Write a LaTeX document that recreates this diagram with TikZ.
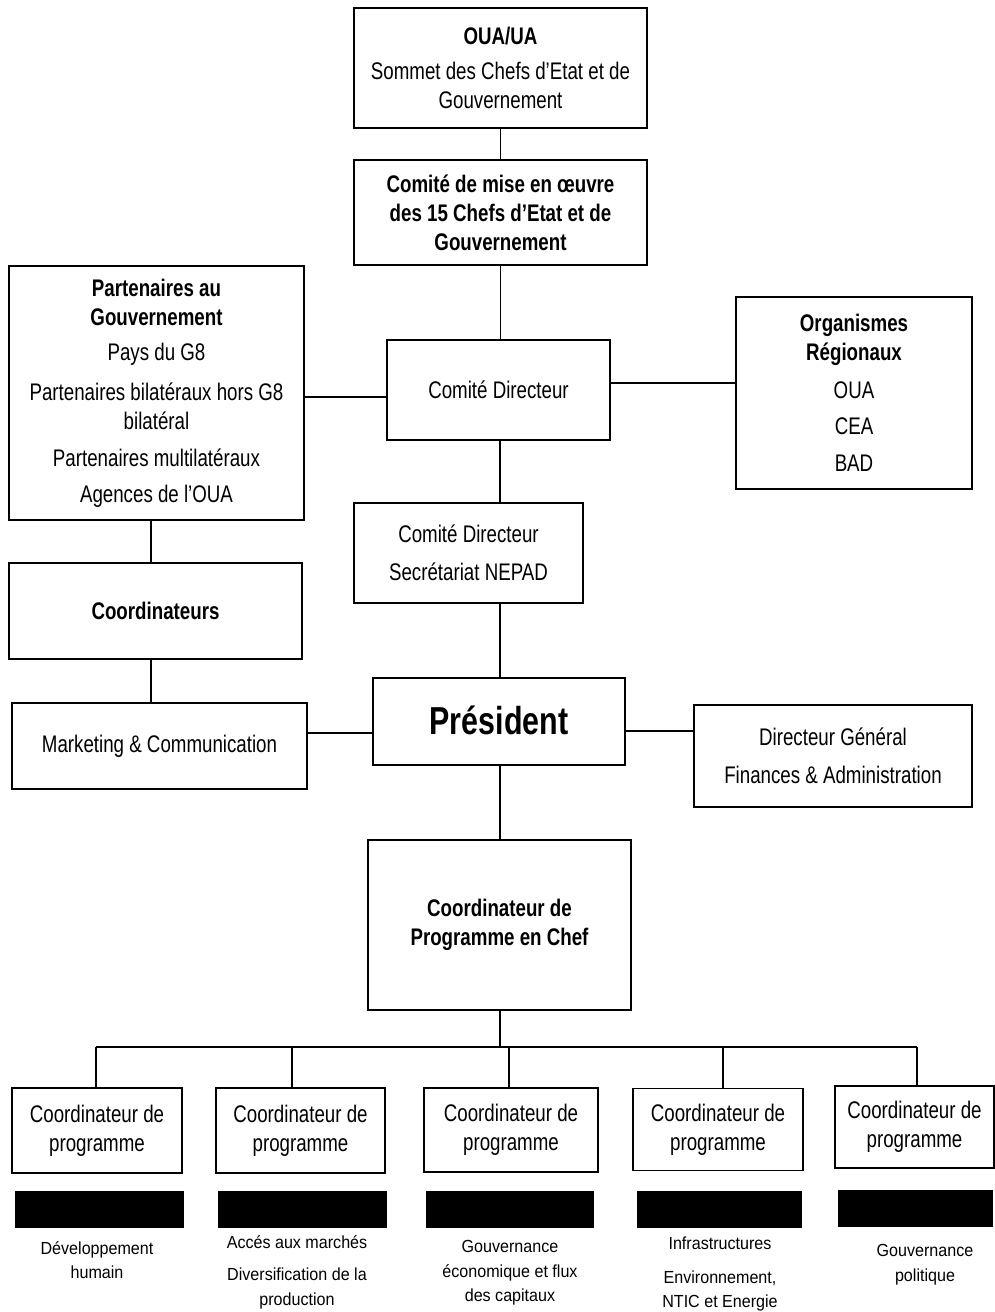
\documentclass[tikz,border=0pt]{standalone}
\usepackage{fontspec}
\setmainfont[FakeStretch=0.78]{Liberation Sans}
\newfontfamily\smallfont[FakeStretch=0.92]{Liberation Sans}
\begin{document}
\begin{tikzpicture}[x=1pt,y=-1pt,
  box/.style={draw, line width=1.1pt, align=center, inner sep=0pt, font=\fontsize{24}{29}\selectfont},
  link/.style={line width=1.1pt},
  bar/.style={fill=black, draw=black, inner sep=0pt},
  note/.style={align=center, inner sep=0pt, font=\smallfont\fontsize{17.5}{24.5}\selectfont}]
\useasboundingbox (0,0) rectangle (995,1312);

% top chain
\node[box, minimum width=293pt, minimum height=120pt] (oua) at (500.5,68)
  {\textbf{OUA/UA}\\[6pt] Sommet des Chefs d'Etat et de\\ Gouvernement};
\node[box, minimum width=293pt, minimum height=105pt] (cme) at (500.5,212.5)
  {\textbf{Comité de mise en œuvre}\\ \textbf{des 15 Chefs d'Etat et de}\\ \textbf{Gouvernement}};
\node[box, minimum width=295pt, minimum height=254pt] (part) at (156.5,393)
  {\textbf{Partenaires au}\\ \textbf{Gouvernement}\\[6pt] Pays du G8\\[11pt] Partenaires bilatéraux hors G8\\ bilatéral\\[8pt] Partenaires multilatéraux\\[7pt] Agences de l'OUA};
\node[box, minimum width=223pt, minimum height=100pt] (cd) at (498.5,390) {Comité Directeur};
\node[box, minimum width=236pt, minimum height=192pt] (org) at (854,393)
  {\textbf{Organismes}\\ \textbf{Régionaux}\\[9pt] OUA\\[7pt] CEA\\[8pt] BAD};
\node[box, minimum width=229pt, minimum height=100pt] (nepad) at (468.5,553)
  {Comité Directeur\\[9pt] Secrétariat NEPAD};
\node[box, minimum width=293pt, minimum height=96pt] (coord) at (155.5,611) {\textbf{Coordinateurs}};
\node[box, minimum width=295pt, minimum height=86pt] (mkt) at (159.5,746) {Marketing \& Communication};
\node[box, minimum width=252pt, minimum height=87pt, font=\fontsize{39}{44}\selectfont\bfseries] (pres) at (499,721.5) {\raisebox{3pt}{Président}};
\node[box, minimum width=278pt, minimum height=102pt] (dg) at (833,756)
  {Directeur Général\\[9pt] Finances \& Administration};
\node[box, minimum width=263pt, minimum height=170pt] (chef) at (499.5,925)
  {\textbf{Coordinateur de}\\ \textbf{Programme en Chef}};

% programme coordinators
\node[box, minimum width=170pt, minimum height=85pt] (pc1) at (97,1130.5) {Coordinateur de\\ programme};
\node[box, minimum width=169pt, minimum height=85pt] (pc2) at (300.5,1130.5) {Coordinateur de\\ programme};
\node[box, minimum width=174pt, minimum height=84pt] (pc3) at (511,1130) {Coordinateur de\\ programme};
\node[box, minimum width=170pt, minimum height=82pt] (pc4) at (718,1129.5) {Coordinateur de\\ programme};
\node[box, minimum width=159pt, minimum height=82pt] (pc5) at (914.5,1127) {Coordinateur de\\ programme};

% dark bars
\node[bar, minimum width=168pt, minimum height=36pt] (bar1) at (99,1209) {};
\node[bar, minimum width=168pt, minimum height=36pt] (bar2) at (302.5,1209) {};
\node[bar, minimum width=167pt, minimum height=36pt] (bar3) at (510,1209) {};
\node[bar, minimum width=164pt, minimum height=36pt] (bar4) at (719,1209) {};
\node[bar, minimum width=154pt, minimum height=36pt] (bar5) at (915,1208) {};

% captions
\node[note] (t1) at (97,1260) {Développement\\ humain};
\node[note] (t2) at (297,1272) {Accés aux marchés\\[8pt] Diversification de la\\ production};
\node[note] (t3) at (510,1273) {Gouvernance\\ économique et flux\\ des capitaux};
\node[note] (t4) at (720,1274) {Infrastructures\\[9pt] Environnement,\\ NTIC et Energie};
\node[note] (t5) at (925,1264.5) {Gouvernance\\ politique};

% connectors
\draw[link] (oua.south) -- (oua.south |- cme.north);
\draw[link] (cme.south) -- (cme.south |- cd.north);
\draw[link] ([xshift=1.5pt]cd.south) -- ([xshift=1.5pt]cd.south |- nepad.north);
\draw[link] ([xshift=1pt]pres.north) -- ([xshift=1pt]pres.north |- nepad.south);
\draw[link] ([yshift=-7pt]cd.west) -- ([yshift=-7pt]cd.west -| part.east);
\draw[link] ([yshift=7pt]cd.east) -- ([yshift=7pt]cd.east -| org.west);
\draw[link] ([xshift=-5.5pt]part.south) -- ([xshift=-5.5pt]part.south |- coord.north);
\draw[link] ([xshift=-4.5pt]coord.south) -- ([xshift=-4.5pt]coord.south |- mkt.north);
\draw[link] ([yshift=13pt]mkt.east) -- ([yshift=13pt]mkt.east -| pres.west);
\draw[link] ([yshift=-9.5pt]pres.east) -- ([yshift=-9.5pt]pres.east -| dg.west);
\draw[link] ([xshift=1pt]pres.south) -- ([xshift=1pt]pres.south |- chef.north);

\coordinate (bus) at (500,1047);
\coordinate (d1) at (96,1047);
\coordinate (d2) at (292,1047);
\coordinate (d3) at (509,1047);
\coordinate (d4) at (723,1047);
\coordinate (d5) at (917,1047);
\draw[link] ([xshift=0.5pt]chef.south) -- (bus);
\draw[link] (d1) -- (d5);
\foreach \i in {1,...,5} {\draw[link] (d\i) -- (d\i |- pc\i.north);}
\end{tikzpicture}
\end{document}
